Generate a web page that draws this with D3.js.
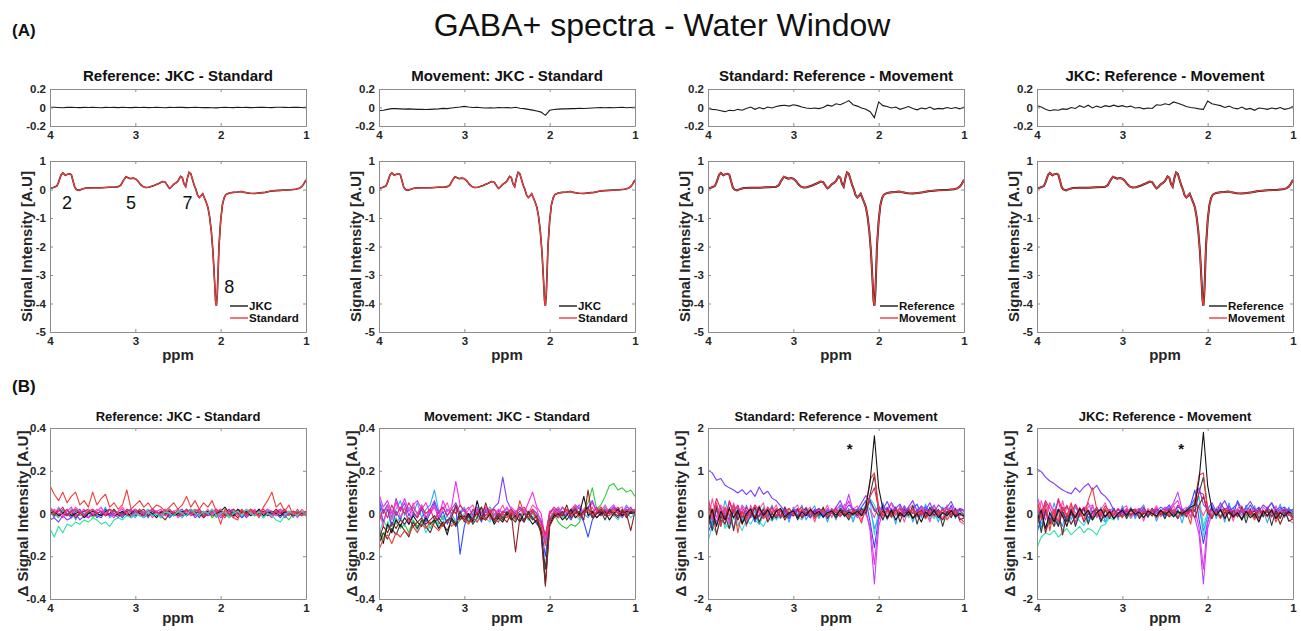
<!DOCTYPE html>
<html><head><meta charset="utf-8">
<script src="https://cdn.jsdelivr.net/npm/d3@7"></script>
<style>
body{margin:0;background:#fff}
svg{display:block}
text{font-family:"Liberation Sans",Arial,Helvetica,sans-serif}
.ax path,.ax line{stroke:#8c8c8c}
.ax text{font:bold 11.5px "Liberation Sans",Arial,sans-serif;fill:#262626}
</style>
</head><body>
<svg id="c" width="1301" height="631"></svg>
<script>
// ---------------- DATA ----------------
const MAIN_TITLE = "GABA+ spectra - Water Window";
const PANEL_TITLES = ["Reference: JKC - Standard","Movement: JKC - Standard","Standard: Reference - Movement","JKC: Reference - Movement"];
const LEGENDS = [["JKC","Standard"],["JKC","Standard"],["Reference","Movement"],["Reference","Movement"]];
const X_TICKS = [4,3,2,1];
const DIFF_TICKS = [-0.2,0,0.2];
const MAIN_TICKS = [-5,-4,-3,-2,-1,0,1];
const B_TICKS_SMALL = [-0.4,-0.2,0,0.2,0.4];
const B_TICKS_LARGE = [-2,-1,0,1,2];
const PEAK_LABELS = [{t:"2",ppm:3.80,v:-0.47},{t:"5",ppm:3.05,v:-0.47},{t:"7",ppm:2.39,v:-0.47},{t:"8",ppm:1.90,v:-3.42}];
const ASTERISKS = [{panel:2,ppm:2.34,v:1.6},{panel:3,ppm:2.31,v:1.6}];

// mean spectrum (ppm, signal)
const SPEC_PPM = [4.00,3.96,3.92,3.90,3.87,3.85,3.82,3.80,3.77,3.75,3.73,3.71,3.69,3.66,3.62,3.58,3.50,3.40,3.30,3.24,3.20,3.17,3.14,3.11,3.09,3.06,3.03,3.00,2.97,2.94,2.91,2.88,2.84,2.78,2.72,2.68,2.65,2.62,2.60,2.58,2.55,2.52,2.50,2.47,2.45,2.43,2.41,2.39,2.37,2.35,2.33,2.31,2.29,2.27,2.25,2.23,2.21,2.19,2.17,2.15,2.13,2.11,2.09,2.07,2.06,2.05,2.04,2.03,2.02,2.00,1.98,1.96,1.94,1.90,1.85,1.80,1.76,1.72,1.66,1.60,1.54,1.48,1.42,1.36,1.30,1.24,1.18,1.12,1.08,1.05,1.03,1.01,1.00];
const SPEC_VAL = [0.04,0.07,0.12,0.25,0.52,0.58,0.50,0.53,0.55,0.52,0.30,0.08,0.00,-0.03,0.02,0.05,0.06,0.06,0.08,0.09,0.10,0.15,0.32,0.45,0.42,0.38,0.40,0.38,0.30,0.18,0.10,0.07,0.08,0.14,0.22,0.28,0.26,0.12,0.04,0.08,0.18,0.24,0.30,0.46,0.42,0.20,0.10,0.40,0.60,0.55,0.35,0.15,0.00,-0.20,-0.28,-0.22,-0.15,-0.30,-0.45,-0.62,-0.95,-1.45,-2.20,-3.30,-3.90,-4.08,-3.70,-2.90,-2.00,-1.10,-0.55,-0.30,-0.18,-0.12,-0.10,-0.09,-0.07,-0.10,-0.13,-0.14,-0.12,-0.10,-0.06,-0.04,-0.03,-0.02,-0.01,0.01,0.04,0.10,0.18,0.28,0.34];

// common ppm grid for difference traces
const PPM_GRID = [4.00,3.95,3.90,3.85,3.80,3.75,3.70,3.65,3.60,3.55,
3.50,3.45,3.40,3.35,3.30,3.25,3.20,3.15,3.10,3.05,
3.00,2.95,2.90,2.85,2.80,2.75,2.70,2.65,2.60,2.55,
2.50,2.45,2.40,2.35,2.30,2.25,2.20,2.15,2.10,2.05,
2.00,1.95,1.90,1.85,1.80,1.75,1.70,1.65,1.60,1.55,
1.50,1.45,1.40,1.35,1.30,1.25,1.20,1.15,1.10,1.05,
1.00];

// (A) top: mean differences
const DIFF_A1 = [0.003,0.002,0.000,-0.002,0.001,0.002,0.000,-0.001,0.001,0.000,
0.002,0.000,-0.002,0.001,0.000,0.001,-0.001,0.002,0.000,-0.001,
0.001,0.000,0.002,-0.001,0.000,0.001,0.000,-0.002,0.001,0.000,
0.002,0.001,-0.001,0.000,0.002,0.000,-0.001,0.000,-0.003,-0.004,
0.000,0.001,0.000,-0.001,0.002,0.000,0.001,-0.001,0.000,0.002,
0.001,0.000,-0.001,0.002,0.003,0.001,0.000,0.002,0.001,0.000,
0.001];
const DIFF_A2 = [-0.035,-0.030,-0.020,-0.012,-0.012,-0.015,-0.018,-0.015,-0.018,-0.020,
-0.020,-0.022,-0.020,-0.018,-0.015,-0.010,-0.012,-0.005,0.000,0.005,
0.012,0.005,0.000,0.002,-0.002,-0.005,-0.003,-0.005,0.000,-0.002,
0.000,-0.005,0.003,-0.008,-0.012,-0.020,-0.028,-0.038,-0.050,-0.085,
-0.030,-0.022,-0.018,-0.015,-0.015,-0.012,-0.012,-0.008,-0.010,-0.008,
-0.005,-0.002,0.000,-0.002,0.000,-0.003,0.000,0.002,-0.002,0.000,
0.003];
const DIFF_A3 = [-0.010,-0.020,-0.025,-0.035,-0.045,-0.030,-0.035,-0.020,-0.030,-0.010,
0.005,-0.020,0.000,-0.015,0.005,-0.005,0.010,0.020,0.025,0.015,
0.030,0.020,0.005,-0.005,-0.010,-0.005,-0.012,0.000,0.025,0.015,
0.040,0.030,0.050,0.075,0.030,0.015,-0.005,-0.020,-0.045,-0.110,
0.060,0.020,0.010,-0.005,0.005,-0.020,-0.005,0.010,-0.010,-0.025,
-0.005,-0.015,0.005,-0.020,-0.010,-0.015,0.000,-0.010,0.000,-0.015,
0.005];
const DIFF_A4 = [0.020,0.005,-0.020,-0.035,-0.025,-0.030,-0.015,-0.020,0.000,-0.010,
0.020,0.000,0.025,-0.005,0.015,0.000,0.020,0.010,0.025,0.010,
0.020,0.005,0.015,-0.005,0.000,-0.015,-0.005,-0.010,0.030,0.025,
0.040,0.030,0.060,0.045,0.030,0.010,0.000,-0.005,-0.015,-0.020,
0.070,0.040,0.030,0.020,0.000,0.015,-0.005,-0.015,0.005,-0.020,
-0.010,-0.030,-0.005,-0.010,-0.020,-0.005,-0.015,0.000,-0.020,-0.010,
0.010];

// (B) Reference: JKC - Standard (per-subject differences)
const B1_BLUE = [0.02,0.01,-0.01,0.02,0.00,-0.02,0.01,0.02,-0.01,0.00,
0.01,-0.02,0.00,0.02,-0.01,0.01,0.00,-0.02,0.01,0.02,
-0.01,0.00,0.01,-0.02,0.02,0.00,-0.01,0.01,-0.02,0.00,
0.01,0.02,-0.01,0.00,0.01,-0.02,0.01,0.00,0.02,-0.01,
0.00,0.01,-0.01,0.02,0.00,-0.02,0.01,0.00,-0.01,0.02,
0.00,-0.01,0.01,0.00,-0.02,0.01,0.00,0.01,-0.01,0.00,
0.01];
const B1_MAGENTA = [-0.01,0.02,0.00,-0.02,0.01,0.03,-0.01,0.00,0.02,-0.02,
0.00,0.01,0.03,-0.01,0.00,-0.02,0.01,0.02,0.00,-0.01,
0.02,-0.01,0.00,0.01,-0.02,0.01,0.02,-0.01,0.00,0.01,
-0.02,0.00,0.01,0.02,-0.01,0.00,-0.02,0.01,0.00,0.02,
-0.01,0.01,0.00,-0.02,0.02,0.01,-0.01,0.00,0.02,-0.01,
0.01,0.00,-0.02,0.01,0.02,-0.01,0.00,0.01,-0.02,0.01,
0.00];
const B1_PURPLE = [-0.03,-0.02,-0.04,-0.01,-0.03,-0.02,0.00,-0.03,-0.01,-0.02,
0.00,-0.01,-0.02,0.01,-0.01,0.00,-0.02,0.01,0.00,-0.01,
0.01,0.00,-0.02,0.00,0.01,-0.01,0.00,0.02,-0.01,0.00,
0.01,-0.01,0.00,0.01,-0.02,0.00,0.01,-0.01,0.00,0.01,
-0.02,0.00,0.02,-0.01,0.00,0.01,-0.02,0.00,0.01,-0.01,
0.00,0.02,-0.01,0.00,0.01,-0.02,0.00,0.01,0.00,-0.01,
0.00];
const B1_BLACK = [0.00,0.01,-0.01,0.00,0.02,-0.01,0.00,0.01,-0.02,0.00,
0.01,0.00,-0.01,0.01,0.02,-0.01,0.00,0.01,-0.01,0.00,
0.02,0.00,-0.01,0.01,0.00,-0.02,0.01,0.00,0.01,-0.01,
0.00,0.01,-0.01,0.02,0.00,-0.01,0.00,0.01,-0.01,0.00,
0.01,0.03,0.00,-0.01,0.02,0.00,0.01,-0.01,0.00,0.02,
-0.01,0.00,0.01,0.00,-0.01,0.01,0.00,-0.01,0.00,0.01,
0.00];
const B1_DARKRED = [0.01,-0.01,0.02,0.00,-0.01,0.01,-0.02,0.00,0.01,0.02,
-0.01,0.00,0.01,-0.01,0.00,0.02,-0.01,0.00,0.01,-0.02,
0.00,0.01,0.02,-0.01,0.00,0.01,-0.01,-0.03,0.00,0.01,
-0.01,0.00,0.02,-0.01,0.00,0.01,-0.02,0.00,0.01,0.00,
0.02,-0.01,0.01,0.00,-0.02,0.01,0.00,0.01,-0.01,0.00,
0.01,-0.01,0.00,0.02,0.00,-0.01,0.01,0.00,-0.01,0.00,
0.01];
const B1_CRIMSON = [0.02,0.00,0.01,0.03,-0.01,0.01,0.02,0.00,-0.01,0.01,
0.02,0.00,0.01,-0.01,0.02,0.01,0.00,-0.01,0.02,0.01,
0.00,0.02,-0.01,0.01,0.02,0.00,0.01,-0.01,0.02,0.00,
0.01,-0.01,0.02,0.00,0.01,0.02,-0.01,0.00,0.01,0.02,
0.00,-0.02,0.01,0.02,0.00,0.01,-0.01,0.02,0.00,0.01,
0.02,0.00,-0.01,0.01,0.00,0.02,-0.01,0.01,0.00,0.01,
-0.01];
const B1_GREEN = [0.01,0.00,-0.02,0.01,0.00,-0.01,0.02,-0.01,0.00,0.01,
-0.02,0.00,0.01,0.00,-0.01,0.02,0.00,-0.01,0.00,0.01,
-0.01,0.02,0.00,-0.01,0.01,0.00,-0.02,0.01,0.00,-0.01,
0.02,0.00,-0.01,0.01,0.02,0.00,-0.01,0.01,-0.02,0.00,
0.01,0.00,-0.02,0.01,0.00,0.02,-0.01,0.00,0.01,-0.01,
0.00,0.01,-0.01,0.00,0.02,-0.01,-0.03,0.00,0.01,-0.01,
0.00];
const B1_SKY = [0.01,-0.02,0.03,0.00,-0.01,0.02,-0.03,0.01,0.00,-0.02,
0.02,0.00,-0.01,0.03,-0.02,0.00,0.01,-0.01,0.02,0.00,
-0.02,0.01,0.00,0.02,-0.01,0.01,-0.02,0.00,0.02,-0.01,
0.00,-0.02,0.01,0.00,-0.01,0.02,0.00,-0.01,0.01,-0.02,
0.01,-0.01,0.02,0.00,0.01,-0.02,0.00,0.02,-0.01,0.01,
-0.02,0.01,0.00,-0.01,0.02,0.00,0.01,-0.02,0.01,0.00,
-0.01];
const B1_PINK = [0.03,0.01,0.02,-0.01,0.02,0.00,0.03,0.01,-0.01,0.02,
0.00,0.02,0.01,0.00,0.02,-0.01,0.01,0.03,0.00,0.01,
0.02,-0.01,0.01,0.00,0.02,0.01,-0.01,0.02,0.00,0.01,
0.02,0.00,0.01,-0.01,0.02,0.01,0.00,0.02,-0.01,0.01,
0.02,0.00,0.01,0.02,-0.01,0.00,0.02,0.01,-0.01,0.01,
0.00,0.02,0.01,-0.01,0.01,0.02,0.00,0.01,-0.01,0.02,
0.00];
const B1_CYAN = [-0.07,-0.11,-0.06,-0.09,-0.05,-0.06,-0.04,-0.05,-0.03,-0.04,
-0.02,-0.03,-0.05,-0.04,-0.06,-0.03,-0.02,-0.03,-0.01,-0.02,
0.00,-0.01,-0.02,0.01,-0.01,0.00,-0.02,0.01,0.00,-0.01,
0.01,0.00,-0.01,0.02,0.00,-0.01,0.01,0.00,0.02,-0.01,
0.00,0.01,-0.02,0.00,0.01,-0.01,0.02,0.00,-0.01,0.01,
-0.02,0.00,-0.01,-0.03,-0.04,-0.01,0.01,0.00,-0.01,0.01,
0.00];
const B1_RED = [0.13,0.09,0.06,0.10,0.05,0.08,0.10,0.04,0.06,0.03,
0.10,0.04,0.07,0.09,0.03,0.05,0.02,0.04,0.11,0.02,
0.04,0.06,0.03,0.05,0.02,0.04,0.03,0.01,0.03,0.05,
0.02,0.04,0.08,0.03,0.06,0.02,0.05,0.03,0.06,0.01,
-0.05,0.02,0.00,-0.02,-0.03,0.02,-0.01,0.02,0.01,-0.02,
0.03,0.06,0.10,0.03,0.05,0.01,0.04,-0.01,0.02,-0.01,
0.01];

// (B) Movement: JKC - Standard
const B2_RED = [-0.17,-0.12,-0.10,-0.14,-0.09,-0.11,-0.08,-0.10,-0.06,-0.09,
-0.05,-0.07,-0.04,-0.06,-0.08,-0.05,-0.03,-0.06,-0.04,-0.02,
-0.03,-0.05,-0.02,-0.04,-0.01,-0.03,0.02,-0.02,-0.04,0.00,
-0.02,0.01,-0.03,0.06,0.00,-0.02,0.01,-0.03,-0.06,-0.15,
-0.04,0.01,-0.02,0.00,0.02,-0.01,0.01,-0.02,0.00,0.02,
-0.01,0.01,0.03,0.00,-0.01,0.02,0.00,0.01,-0.01,0.02,
0.01];
const B2_BLACK = [-0.08,-0.14,-0.05,-0.09,-0.03,-0.06,-0.02,-0.05,-0.01,-0.04,
-0.06,-0.02,-0.05,-0.03,-0.07,-0.04,-0.10,-0.02,-0.05,-0.01,
-0.03,0.00,-0.04,0.06,-0.02,-0.03,0.00,-0.05,-0.02,-0.04,
0.00,-0.03,-0.01,-0.04,0.00,-0.02,-0.05,-0.03,-0.08,-0.33,
-0.05,-0.01,0.00,-0.03,-0.01,0.02,-0.02,0.00,0.08,-0.01,
0.01,-0.02,0.00,0.01,-0.03,0.00,0.02,-0.01,0.01,0.00,
0.00];
const B2_DARKRED = [-0.12,-0.06,-0.09,-0.04,-0.07,-0.03,-0.05,-0.02,-0.06,-0.04,
-0.02,-0.05,-0.03,-0.01,-0.04,-0.06,-0.03,-0.02,0.04,-0.03,
-0.01,-0.04,-0.02,0.00,-0.03,0.05,-0.01,-0.03,0.00,-0.02,
-0.04,0.00,-0.18,-0.02,-0.04,0.00,-0.03,-0.01,-0.10,-0.34,
-0.06,-0.02,0.00,-0.01,0.04,-0.02,0.00,0.01,-0.03,0.11,
-0.02,0.00,0.02,-0.01,0.01,0.00,-0.02,0.01,0.00,-0.08,
0.01];
const B2_BLUE = [0.05,-0.04,0.02,-0.06,0.01,-0.03,0.03,-0.05,0.00,-0.02,
0.02,-0.04,0.00,0.05,-0.03,0.01,-0.05,0.00,0.03,-0.19,
-0.06,0.00,-0.03,0.01,-0.04,0.02,0.00,-0.03,0.01,-0.02,
0.00,0.02,-0.02,0.00,-0.04,0.01,-0.02,-0.05,-0.07,-0.20,
-0.04,0.00,0.02,-0.01,0.00,-0.03,0.01,0.00,-0.04,-0.11,
-0.03,0.00,0.02,-0.01,0.01,0.03,0.00,-0.01,0.02,0.00,
0.01];
const B2_CYAN = [-0.10,-0.03,-0.07,0.02,-0.05,-0.01,-0.06,0.00,-0.04,-0.08,
-0.03,-0.09,-0.05,-0.02,-0.06,-0.04,-0.01,-0.05,-0.03,-0.02,
0.00,-0.03,-0.01,-0.04,0.01,-0.02,-0.04,0.00,-0.03,-0.01,
-0.02,0.01,-0.03,-0.01,0.02,-0.03,-0.02,0.00,-0.06,-0.12,
-0.03,-0.01,0.01,-0.02,0.00,0.02,-0.01,-0.03,0.00,0.01,
-0.02,0.01,-0.01,0.02,0.00,-0.01,-0.03,0.00,0.01,-0.02,
0.00];
const B2_MAGENTA = [0.09,0.03,0.06,0.00,0.05,0.02,0.07,0.01,0.04,0.06,
0.02,0.05,0.00,0.03,-0.02,0.06,0.01,0.03,0.15,0.04,
0.01,0.03,-0.01,0.02,0.00,0.03,0.01,-0.01,0.02,0.00,
0.03,-0.01,0.01,0.02,0.00,0.05,0.10,0.03,0.00,-0.12,
0.01,0.02,0.00,0.03,0.01,-0.01,0.02,0.04,0.00,0.02,
0.05,0.01,0.03,0.00,0.02,0.04,0.01,0.00,0.03,0.02,
0.01];
const B2_PURPLE = [0.06,0.00,0.04,-0.02,0.07,0.01,0.05,-0.01,0.03,0.00,
0.04,-0.02,0.02,0.06,0.00,0.03,-0.01,0.02,0.05,0.00,
0.02,-0.01,0.01,0.03,-0.02,0.01,0.00,0.03,0.05,0.17,
0.06,0.02,0.00,0.03,0.01,-0.02,0.02,0.00,-0.03,-0.12,
0.00,0.02,-0.01,0.03,0.00,0.01,0.04,0.02,0.00,0.03,
0.06,0.01,-0.01,0.02,0.00,0.03,0.01,-0.02,0.01,0.03,
0.00];
const B2_GREEN = [-0.06,-0.12,-0.04,-0.08,-0.02,-0.07,-0.05,-0.09,-0.03,-0.06,
-0.04,-0.02,-0.07,-0.03,-0.05,-0.01,-0.04,-0.02,-0.06,-0.03,
-0.01,-0.04,0.00,-0.02,-0.03,0.01,-0.02,0.00,-0.03,-0.01,
0.00,-0.02,0.01,-0.01,0.00,-0.03,0.00,-0.02,-0.05,-0.10,
-0.02,0.00,-0.04,-0.06,-0.07,-0.05,-0.06,-0.04,0.02,0.05,
0.12,0.02,0.04,0.08,0.13,0.14,0.11,0.12,0.10,0.11,
0.08];
const B2_CRIMSON = [-0.04,0.02,-0.02,0.04,-0.01,0.03,0.00,0.05,0.01,-0.02,
0.03,0.00,0.02,-0.03,0.01,0.03,-0.01,0.02,0.00,0.04,
0.01,-0.02,0.02,0.00,0.03,-0.01,0.01,0.02,-0.02,0.01,
0.00,0.02,-0.01,0.01,0.03,0.00,0.02,-0.02,-0.04,-0.10,
0.00,0.03,0.01,-0.01,0.02,0.00,0.03,-0.01,0.01,0.02,
0.00,0.03,-0.01,0.02,0.00,0.01,0.03,-0.01,0.02,0.00,
0.02];
const B2_SKY = [0.07,0.01,0.04,-0.03,0.02,0.06,-0.01,0.03,0.00,0.05,
-0.02,0.02,0.04,0.11,0.01,-0.03,0.02,0.00,-0.04,0.01,
0.03,-0.02,0.00,0.02,-0.01,0.01,0.03,0.00,-0.02,0.01,
0.02,0.00,-0.01,0.03,0.00,-0.02,0.01,-0.03,-0.06,-0.14,
-0.02,0.01,0.03,0.00,0.02,-0.01,0.01,0.03,0.00,-0.02,
0.01,0.02,0.00,0.03,0.01,-0.01,0.02,0.00,0.04,0.01,
0.02];
const B2_PINK = [0.02,-0.06,0.04,-0.03,0.06,-0.02,0.03,-0.05,0.05,-0.01,
0.04,-0.03,0.01,0.04,-0.02,0.02,0.05,-0.01,0.03,0.00,
-0.02,0.02,0.04,-0.01,0.01,0.03,-0.03,0.02,0.00,0.04,
-0.01,0.03,0.01,-0.02,0.02,0.00,0.04,0.02,-0.05,-0.11,
0.01,-0.02,0.03,0.00,-0.01,0.02,0.04,-0.01,0.02,0.00,
0.03,-0.02,0.01,0.04,0.00,-0.01,0.02,0.03,-0.02,0.01,
0.00];
const B2_BLACK2 = [-0.14,-0.09,-0.12,-0.07,-0.10,-0.05,-0.08,-0.11,-0.04,-0.07,
-0.03,-0.06,-0.09,-0.04,-0.02,-0.05,-0.08,-0.03,-0.06,0.01,
-0.04,-0.01,-0.05,-0.02,0.03,-0.03,0.00,-0.04,-0.01,-0.03,
0.01,-0.02,-0.04,0.00,-0.03,0.01,-0.02,-0.04,-0.09,-0.26,
-0.03,0.00,-0.02,0.01,-0.03,0.00,0.02,-0.01,0.01,0.03,
-0.02,0.00,0.01,-0.03,0.02,0.00,-0.01,0.02,-0.02,0.01,
0.00];

// (B) Standard: Reference - Movement
const B3_PURPLE = [1.02,0.95,0.78,0.82,0.66,0.60,0.55,0.48,0.56,0.44,
0.54,0.40,0.62,0.45,0.52,0.36,0.30,0.18,0.05,-0.08,
0.10,-0.05,0.08,0.00,-0.10,0.06,0.12,-0.04,0.08,0.00,
0.15,0.30,0.05,0.20,0.10,0.08,0.25,0.42,0.30,0.05,
0.15,0.10,0.28,0.05,0.12,0.22,0.00,0.15,0.30,0.05,
0.18,0.08,0.25,0.02,0.20,0.10,0.15,0.28,0.05,0.12,
0.08];
const B3_BLACK = [-0.20,0.10,-0.30,0.05,-0.15,0.12,-0.10,0.08,-0.25,0.00,
0.10,-0.12,0.15,-0.05,0.08,-0.10,0.05,0.12,-0.08,0.02,
0.06,-0.10,0.04,-0.05,0.10,-0.02,0.05,-0.08,0.02,0.06,
-0.04,0.08,-0.06,0.03,-0.02,0.05,-0.05,0.15,0.75,1.82,
0.60,0.10,-0.10,0.08,-0.15,0.02,-0.08,0.05,-0.12,0.00,
-0.20,0.04,-0.06,0.08,-0.10,0.02,-0.05,0.06,-0.08,0.00,
-0.05];
const B3_RED = [0.40,-0.10,0.25,-0.30,0.15,-0.05,0.20,-0.45,0.05,-0.15,
0.10,-0.08,0.18,-0.12,0.02,0.15,-0.06,0.08,-0.10,0.12,
0.00,-0.08,0.10,-0.04,0.06,-0.12,0.03,0.08,-0.06,0.02,
0.10,-0.05,0.04,-0.10,0.06,0.00,-0.22,0.20,0.80,0.95,
0.15,-0.05,0.08,-0.10,0.04,0.12,-0.06,0.02,0.10,-0.08,
0.05,-0.12,0.02,0.08,-0.04,0.10,-0.15,0.00,0.06,-0.10,
-0.20];
const B3_VIOLET = [0.10,-0.15,0.20,-0.05,0.12,-0.20,0.05,0.15,-0.10,0.08,
-0.05,0.12,-0.08,0.02,0.10,-0.12,0.05,-0.02,0.08,-0.06,
0.04,0.10,-0.05,0.02,-0.10,0.06,0.00,0.08,-0.04,0.12,
0.02,-0.08,0.10,0.45,0.05,-0.10,0.02,0.08,-0.40,-1.65,
-0.30,0.05,0.15,-0.02,0.10,0.00,0.12,-0.05,0.08,0.02,
0.15,-0.02,0.10,0.05,-0.05,0.12,0.00,0.08,-0.03,0.10,
0.05];
const B3_BLUE = [-0.45,-0.20,0.10,-0.30,0.05,-0.15,0.20,-0.10,0.15,-0.05,
0.08,-0.20,0.12,0.02,-0.08,0.15,-0.05,0.10,0.00,-0.12,
0.05,0.12,-0.06,0.10,0.00,-0.05,0.08,-0.10,0.04,0.00,
0.10,-0.06,0.02,0.08,-0.04,0.05,0.15,0.30,-0.20,-0.80,
-0.10,0.20,0.05,0.25,0.10,-0.05,0.18,0.02,0.10,0.22,
-0.02,0.15,0.05,0.20,-0.05,0.10,0.02,0.18,-0.06,0.10,
0.05];
const B3_CYAN = [-0.65,-0.30,-0.45,-0.15,-0.25,-0.35,-0.10,-0.20,-0.40,-0.15,
-0.25,-0.05,-0.20,-0.30,-0.10,-0.18,-0.05,-0.12,-0.02,-0.10,
0.02,-0.08,-0.15,0.00,-0.06,0.05,-0.10,0.00,-0.04,0.06,
-0.08,0.02,-0.05,0.04,-0.12,0.00,0.05,0.20,0.30,-0.50,
0.10,-0.05,0.08,-0.02,0.12,0.00,-0.08,0.10,0.02,-0.05,
0.08,0.00,0.12,-0.04,0.05,-0.10,0.02,0.08,-0.06,0.04,
0.00];
const B3_MAGENTA = [0.30,0.05,-0.20,0.15,-0.10,0.25,0.00,-0.15,0.20,0.05,
-0.10,0.15,0.02,-0.12,0.08,0.00,0.12,-0.05,0.10,0.02,
-0.06,0.08,0.00,0.15,-0.02,0.10,0.04,-0.06,0.12,0.00,
0.08,0.20,0.10,0.30,0.02,-0.05,0.10,0.00,-0.30,-1.20,
-0.15,0.08,0.00,0.12,-0.04,0.06,0.15,-0.02,0.08,0.00,
0.12,-0.05,0.06,0.10,-0.02,0.08,0.00,0.15,0.02,-0.05,
0.00];
const B3_DARKRED = [-0.35,0.10,-0.50,-0.05,-0.25,0.15,-0.40,0.05,-0.20,-0.10,
0.12,-0.15,-0.05,0.10,-0.20,0.00,-0.10,0.08,-0.15,0.00,
-0.05,0.10,-0.10,0.02,0.06,-0.08,0.00,0.12,-0.05,0.04,
-0.10,0.02,0.08,-0.04,0.00,0.10,-0.05,0.12,0.30,0.10,
-0.05,0.06,-0.12,0.02,0.08,-0.06,0.00,0.10,-0.10,0.02,
0.06,-0.08,0.00,0.10,-0.05,-0.15,0.02,0.08,-0.04,0.00,
-0.08];
const B3_CRIMSON = [0.20,-0.05,0.35,0.10,-0.15,0.30,0.05,0.20,-0.10,0.15,
0.00,0.20,0.08,-0.05,0.15,0.02,0.10,-0.08,0.05,0.12,
-0.02,0.06,0.15,-0.05,0.08,0.00,0.12,0.04,-0.06,0.10,
0.02,0.08,-0.04,0.06,0.12,-0.02,0.05,0.10,0.40,0.60,
0.10,-0.05,0.08,0.00,0.12,-0.02,0.06,0.10,0.00,0.08,
-0.04,0.10,0.02,-0.06,0.08,0.00,0.12,-0.05,0.04,0.10,
-0.10];
const B3_AQUA = [-0.30,-0.10,-0.25,0.05,-0.35,-0.15,-0.05,-0.30,-0.10,-0.20,
0.00,-0.15,-0.25,-0.05,-0.12,0.02,-0.08,-0.02,-0.10,0.05,
-0.05,0.02,-0.08,0.06,-0.02,0.00,-0.10,0.04,0.00,-0.06,
0.05,-0.02,0.06,0.00,-0.05,0.02,0.08,-0.04,0.35,0.20,
-0.02,0.05,-0.06,0.08,0.00,-0.04,0.06,-0.10,0.02,0.05,
-0.05,0.08,0.00,-0.12,0.04,0.00,-0.06,0.05,0.00,-0.04,
0.02];
const B3_SKY = [0.25,-0.30,0.10,-0.15,0.30,-0.05,-0.35,0.15,-0.20,0.20,
-0.10,0.05,-0.25,0.15,-0.05,0.20,-0.15,0.05,0.10,-0.20,
0.15,-0.05,0.20,-0.15,0.05,0.18,-0.12,0.10,-0.20,0.08,
-0.15,0.20,-0.08,0.12,-0.20,0.10,0.00,0.20,0.10,-0.35,
-0.10,0.25,-0.15,0.10,-0.25,0.20,-0.05,0.15,-0.20,0.12,
-0.10,0.22,-0.15,0.05,-0.20,0.15,-0.08,0.20,-0.12,0.10,
-0.05];
const B3_PINK = [-0.20,0.35,-0.10,0.20,0.05,-0.25,0.25,-0.05,0.15,-0.30,
0.20,-0.10,0.10,0.25,-0.15,0.05,0.20,-0.10,0.15,-0.05,
0.10,0.20,-0.12,0.05,0.15,-0.20,0.10,0.00,0.20,-0.10,
0.15,-0.05,0.22,-0.10,0.10,0.18,-0.15,0.05,0.10,-0.10,
0.20,-0.15,0.10,0.25,-0.05,0.15,-0.20,0.10,0.20,-0.08,
0.15,0.05,-0.20,0.18,0.02,-0.12,0.20,-0.05,0.12,-0.18,
-0.25];
const B3_BLACK2 = [0.05,-0.40,0.15,-0.20,-0.05,-0.35,0.10,-0.15,0.05,-0.25,
-0.05,0.15,-0.20,0.00,0.10,-0.15,0.08,-0.10,0.15,-0.05,
0.10,-0.15,0.05,0.12,-0.10,0.08,-0.05,0.15,-0.12,0.05,
-0.10,0.12,0.00,-0.15,0.08,-0.05,0.12,0.00,0.45,0.90,
0.05,-0.15,0.12,-0.08,0.15,-0.20,0.10,-0.05,0.18,-0.25,
0.08,-0.12,0.15,-0.05,0.10,-0.30,0.05,-0.10,0.12,-0.15,
-0.10];

// (B) JKC: Reference - Movement
const B4_PURPLE = [1.05,0.98,0.85,0.76,0.70,0.62,0.55,0.50,0.46,0.60,
0.50,0.62,0.70,0.55,0.66,0.48,0.40,0.28,0.08,-0.05,
0.12,0.00,0.08,-0.06,0.10,0.04,-0.02,0.10,0.05,0.15,
0.08,0.20,0.02,0.15,0.10,0.05,0.18,0.35,0.60,0.20,
0.10,0.25,0.05,0.15,0.30,0.08,0.12,0.25,0.02,0.15,
0.28,0.10,0.05,0.20,0.12,0.25,0.08,0.15,0.02,0.10,
0.05];
const B4_BLACK = [-0.15,0.08,-0.35,0.02,-0.20,0.10,-0.05,-0.30,0.05,-0.10,
0.12,-0.05,0.08,-0.15,0.02,0.10,-0.08,0.05,-0.12,0.00,
0.08,-0.05,0.10,-0.02,0.04,-0.10,0.06,0.00,-0.06,0.08,
-0.02,0.05,-0.08,0.04,0.00,0.06,0.15,0.20,0.80,1.90,
0.65,0.10,-0.05,0.10,-0.12,0.04,-0.08,0.02,-0.15,0.05,
-0.10,0.00,-0.20,0.06,-0.05,0.08,-0.12,0.02,-0.06,0.04,
-0.02];
const B4_RED = [0.35,-0.15,0.20,-0.40,0.10,-0.20,0.15,-0.05,0.25,-0.10,
0.05,-0.15,0.30,0.60,0.10,-0.05,0.12,-0.08,0.05,0.00,
-0.10,0.08,-0.02,0.10,-0.06,0.04,0.00,0.08,-0.10,0.02,
0.06,-0.04,0.10,-0.08,0.02,0.05,-0.25,0.30,0.90,0.95,
0.10,-0.08,0.05,-0.12,0.08,0.00,-0.10,0.05,0.10,-0.05,
0.02,-0.15,0.06,0.00,-0.08,0.10,-0.20,0.04,-0.05,0.02,
-0.15];
const B4_VIOLET = [0.15,-0.10,0.25,0.00,-0.20,0.10,0.05,-0.15,0.12,0.02,
-0.08,0.10,0.00,0.15,-0.05,0.08,-0.10,0.05,0.00,0.12,
-0.04,0.06,0.10,-0.06,0.02,0.08,-0.02,0.12,0.00,0.05,
0.15,0.10,0.25,0.50,0.10,0.00,0.05,-0.10,-0.50,-1.65,
-0.35,0.00,0.10,0.05,-0.05,0.15,0.02,0.08,-0.04,0.12,
0.00,0.10,0.05,-0.02,0.15,0.00,0.08,0.02,-0.05,0.10,
0.04];
const B4_BLUE = [-0.40,-0.15,0.05,-0.25,0.10,-0.30,0.15,-0.05,0.10,-0.20,
0.05,0.12,-0.10,0.00,0.15,-0.05,0.08,-0.02,0.10,-0.08,
0.02,0.10,-0.04,0.06,0.00,0.12,-0.06,0.05,0.00,0.08,
-0.05,0.10,0.02,0.06,-0.04,0.10,0.20,0.55,-0.15,-0.70,
-0.20,0.15,0.02,0.25,0.08,0.18,-0.05,0.30,0.10,0.02,
0.20,0.05,0.15,-0.02,0.12,0.25,0.00,0.10,0.15,0.05,
0.10];
const B4_AQUA = [-0.80,-0.55,-0.45,-0.50,-0.40,-0.55,-0.45,-0.35,-0.50,-0.40,
-0.30,-0.45,-0.35,-0.40,-0.50,-0.30,-0.25,-0.10,-0.15,0.00,
-0.05,0.05,-0.08,0.02,-0.04,0.06,-0.02,0.00,-0.06,0.04,
0.00,-0.05,0.08,-0.02,0.04,0.00,0.05,0.25,0.40,-0.30,
0.05,-0.02,0.10,-0.05,0.02,0.08,-0.06,0.00,0.05,-0.10,
0.02,0.06,-0.04,0.00,0.08,-0.02,0.05,-0.08,0.02,0.00,
0.04];
const B4_MAGENTA = [0.40,0.10,-0.15,0.25,0.00,0.30,-0.10,0.15,0.05,0.20,
-0.05,0.10,0.25,0.00,0.12,-0.08,0.05,0.10,-0.02,0.08,
0.00,0.12,-0.05,0.06,0.10,-0.02,0.08,0.00,0.15,-0.04,
0.10,0.05,0.20,0.30,0.00,0.08,-0.05,0.10,-0.35,-1.30,
-0.20,0.10,-0.02,0.08,0.00,0.15,-0.05,0.10,0.02,0.06,
-0.04,0.12,0.00,0.08,-0.06,0.10,0.02,0.00,0.12,-0.05,
0.02];
const B4_DARKRED = [-0.30,0.05,-0.45,-0.10,-0.30,0.10,-0.50,0.00,-0.25,-0.05,
0.10,-0.20,0.00,-0.10,0.12,-0.15,-0.05,0.05,-0.12,0.02,
-0.08,0.06,-0.04,0.10,-0.10,0.00,0.05,-0.06,0.10,-0.02,
0.04,-0.08,0.00,0.06,-0.05,0.02,0.10,-0.10,0.20,0.40,
0.00,-0.06,0.04,-0.10,0.02,0.08,-0.05,0.00,-0.12,0.05,
-0.02,0.06,-0.10,0.00,0.04,-0.06,0.02,-0.25,0.00,0.05,
-0.10];
const B4_CRIMSON = [0.25,0.00,0.30,0.12,-0.10,0.35,0.05,0.18,-0.05,0.22,
0.02,0.15,0.05,-0.08,0.12,0.00,0.18,0.04,-0.05,0.10,
0.06,-0.02,0.12,0.00,0.08,0.15,-0.04,0.06,0.10,0.00,
0.05,0.12,0.00,0.20,0.05,-0.05,0.08,0.15,0.50,0.45,
0.05,0.10,-0.04,0.06,0.12,0.00,0.08,-0.06,0.10,0.02,
0.06,-0.05,0.10,0.00,0.12,0.04,-0.08,0.05,0.10,-0.02,
-0.12];
const B4_CYAN = [-0.45,-0.20,-0.35,-0.05,-0.30,-0.15,-0.40,-0.10,-0.25,-0.05,
-0.18,-0.28,-0.08,-0.15,-0.02,-0.12,-0.20,-0.05,-0.10,0.02,
-0.06,0.00,-0.12,0.04,-0.04,-0.08,0.02,-0.02,0.05,-0.06,
0.00,0.04,-0.05,0.02,-0.08,0.00,0.10,0.30,0.35,-0.55,
0.00,0.08,-0.04,0.12,-0.02,0.05,0.15,-0.06,0.04,0.10,
-0.02,0.08,0.00,-0.06,0.12,0.02,-0.04,0.06,0.00,0.10,
0.02];
const B4_SKY = [0.20,-0.35,0.05,-0.20,0.25,-0.10,-0.30,0.20,-0.15,0.15,
-0.05,0.10,-0.20,0.20,-0.10,0.15,-0.20,0.08,0.12,-0.15,
0.18,-0.08,0.15,-0.12,0.08,0.20,-0.10,0.12,-0.18,0.05,
-0.12,0.18,-0.05,0.10,-0.22,0.12,0.05,0.25,0.15,-0.40,
-0.08,0.20,-0.12,0.15,-0.20,0.25,-0.08,0.12,-0.15,0.20,
-0.05,0.18,-0.12,0.08,-0.22,0.12,-0.05,0.22,-0.10,0.15,
-0.08];
const B4_PINK = [-0.25,0.30,-0.05,0.25,0.00,-0.20,0.30,-0.10,0.20,-0.25,
0.15,-0.05,0.15,0.20,-0.10,0.10,0.25,-0.05,0.10,-0.10,
0.12,0.18,-0.10,0.08,0.12,-0.18,0.12,0.02,0.18,-0.08,
0.12,-0.02,0.20,-0.12,0.08,0.15,-0.10,0.08,0.15,-0.05,
0.18,-0.12,0.12,0.22,-0.08,0.12,-0.18,0.12,0.18,-0.05,
0.12,0.08,-0.18,0.15,0.05,-0.10,0.18,-0.08,0.10,-0.15,
-0.22];
const B4_BLACK2 = [0.10,-0.45,0.10,-0.25,-0.10,-0.30,0.05,-0.20,0.10,-0.30,
0.00,0.12,-0.25,0.05,0.08,-0.20,0.10,-0.12,0.12,-0.08,
0.08,-0.12,0.08,0.10,-0.12,0.05,-0.08,0.12,-0.10,0.08,
-0.12,0.10,0.02,-0.12,0.10,-0.08,0.10,0.05,0.50,0.85,
0.10,-0.12,0.10,-0.10,0.12,-0.18,0.08,-0.08,0.15,-0.22,
0.10,-0.10,0.12,-0.08,0.12,-0.28,0.08,-0.12,0.10,-0.18,
-0.12];

// ---------------- STYLE ----------------
const C = {red:"#ee3b3b",black:"#141414",blue:"#2f4cff",cyan:"#36d6e6",aqua:"#2fe0a8",magenta:"#f52cf0",
  purple:"#7b3cff",violet:"#c043f5",green:"#2fcc3a",darkred:"#8e1f1f",crimson:"#e3245e",sky:"#2ea6ff",pink:"#ff4fa8",gray:"#3a3a3a"};
const B_SETS = [
  [[B1_GREEN,C.green],[B1_SKY,C.sky],[B1_BLUE,C.blue],[B1_PURPLE,C.purple],[B1_MAGENTA,C.magenta],[B1_DARKRED,C.darkred],[B1_BLACK,C.black],[B1_PINK,C.pink],[B1_CRIMSON,C.crimson],[B1_CYAN,C.aqua],[B1_RED,C.red]],
  [[B2_GREEN,C.green],[B2_SKY,C.sky],[B2_CYAN,C.cyan],[B2_BLUE,C.blue],[B2_PURPLE,C.purple],[B2_PINK,C.pink],[B2_MAGENTA,C.magenta],[B2_CRIMSON,C.crimson],[B2_BLACK2,C.gray],[B2_BLACK,C.black],[B2_RED,C.red],[B2_DARKRED,C.darkred]],
  [[B3_AQUA,C.aqua],[B3_CYAN,C.cyan],[B3_SKY,C.sky],[B3_BLUE,C.blue],[B3_VIOLET,C.violet],[B3_MAGENTA,C.magenta],[B3_PINK,C.pink],[B3_DARKRED,C.darkred],[B3_BLACK2,C.gray],[B3_CRIMSON,C.crimson],[B3_PURPLE,C.purple],[B3_RED,C.red],[B3_BLACK,C.black]],
  [[B4_AQUA,C.aqua],[B4_CYAN,C.cyan],[B4_SKY,C.sky],[B4_BLUE,C.blue],[B4_VIOLET,C.violet],[B4_MAGENTA,C.magenta],[B4_PINK,C.pink],[B4_DARKRED,C.darkred],[B4_BLACK2,C.gray],[B4_CRIMSON,C.crimson],[B4_PURPLE,C.purple],[B4_RED,C.red],[B4_BLACK,C.black]]
];
const DIFFS = [DIFF_A1,DIFF_A2,DIFF_A3,DIFF_A4];
const B_TICKS = [B_TICKS_SMALL,B_TICKS_SMALL,B_TICKS_LARGE,B_TICKS_LARGE];

// ---------------- LAYOUT ----------------
const svg = d3.select("#c");
const COL_X = [50,379,708,1037], W = 256;
const TOP_Y = 89, TOP_H = 37, MAIN_Y = 161, MAIN_H = 171, B_Y = 428, B_H = 171;
const LEG_X = [180,180,172,172];
const fmt = d => String(d);
const defs = svg.append("defs");
let clipN = 0;

function frame(g, xs, ys, h, yTicks) {
  g.append("g").attr("class","ax").call(d3.axisLeft(ys).tickValues(yTicks).tickSize(-3).tickSizeOuter(0).tickPadding(4).tickFormat(fmt));
  g.append("g").attr("class","ax").attr("transform",`translate(${W},0)`).call(d3.axisRight(ys).tickValues(yTicks).tickSize(-3).tickSizeOuter(0).tickFormat(""));
  g.append("g").attr("class","ax").call(d3.axisTop(xs).tickValues(X_TICKS).tickSize(-3).tickSizeOuter(0).tickFormat(""));
  g.append("g").attr("class","ax").attr("transform",`translate(0,${h})`).call(d3.axisBottom(xs).tickValues(X_TICKS).tickSize(-3).tickSizeOuter(0).tickPadding(5).tickFormat(fmt));
}
function clipped(g, h) {
  const id = "clip" + (clipN++);
  defs.append("clipPath").attr("id", id).append("rect").attr("width", W).attr("height", h);
  return g.append("g").attr("clip-path", `url(#${id})`);
}
function ppmLabel(g, h, dy) {
  g.append("text").attr("x", W/2).attr("y", h + dy).attr("text-anchor","middle")
    .style("font","bold 15px 'Liberation Sans',Arial,sans-serif").attr("fill","#262626").text("ppm");
}
function yLabel(x, yc, txt) {
  svg.append("text").attr("transform",`translate(${x},${yc}) rotate(-90)`).attr("text-anchor","middle").attr("dy","0.35em")
    .style("font","bold 15px 'Liberation Sans',Arial,sans-serif").attr("fill","#262626").text(txt);
}

svg.append("text").attr("x", 662).attr("y", 36).attr("text-anchor","middle")
  .style("font","32px 'Liberation Sans',Arial,sans-serif").attr("fill","#111").text(MAIN_TITLE);
svg.append("text").attr("x", 12).attr("y", 36).style("font","bold 17px 'Liberation Sans',Arial,sans-serif").attr("fill","#111").text("(A)");
svg.append("text").attr("x", 12).attr("y", 392).style("font","bold 17px 'Liberation Sans',Arial,sans-serif").attr("fill","#111").text("(B)");

PANEL_TITLES.forEach((title, p) => {
  const x0 = COL_X[p];
  const xs = d3.scaleLinear().domain([4,1]).range([0,W]);

  // ---- (A) top: mean difference ----
  const gT = svg.append("g").attr("transform",`translate(${x0},${TOP_Y})`);
  const yT = d3.scaleLinear().domain([-0.2,0.2]).range([TOP_H,0]);
  gT.append("text").attr("x", W/2).attr("y", -8).attr("text-anchor","middle")
    .style("font","bold 15px 'Liberation Sans',Arial,sans-serif").attr("fill","#111").text(title);
  const lineT = d3.line().x((d,i)=>xs(PPM_GRID[i])).y(d=>yT(d));
  clipped(gT, TOP_H).append("path").datum(DIFFS[p]).attr("d", lineT).attr("fill","none").attr("stroke","#1a1a1a").attr("stroke-width",1.1);
  frame(gT, xs, yT, TOP_H, DIFF_TICKS);

  // ---- (A) main: spectra ----
  const gM = svg.append("g").attr("transform",`translate(${x0},${MAIN_Y})`);
  const yM = d3.scaleLinear().domain([-5,1]).range([MAIN_H,0]);
  const lineM = d3.line().x((d,i)=>xs(SPEC_PPM[i])).y(d=>yM(d));
  const cM = clipped(gM, MAIN_H);
  cM.append("path").datum(SPEC_VAL).attr("d", lineM).attr("fill","none").attr("stroke","#1a1a1a").attr("stroke-width", p>=2 ? 2.0 : 1.6);
  cM.append("path").datum(SPEC_VAL).attr("d", lineM).attr("fill","none").attr("stroke",C.red).attr("stroke-width",1.3);
  frame(gM, xs, yM, MAIN_H, MAIN_TICKS);
  ppmLabel(gM, MAIN_H, 28);
  if (p === 0) {
    PEAK_LABELS.forEach(pk => {
      gM.append("text").attr("x", xs(pk.ppm)).attr("y", yM(pk.v)).attr("text-anchor","middle").attr("dy","0.35em")
        .style("font","18px 'Liberation Sans',Arial,sans-serif").attr("fill","#111").text(pk.t);
    });
  }
  // legend
  const lg = gM.append("g").attr("transform",`translate(${LEG_X[p]},145)`);
  [["#1a1a1a",0],[C.red,12]].forEach(([col,dy],k) => {
    lg.append("line").attr("x1",0).attr("x2",18).attr("y1",dy).attr("y2",dy).attr("stroke",col).attr("stroke-width",1.4);
    lg.append("text").attr("x",19).attr("y",dy).attr("dy","0.34em")
      .style("font","bold 11.5px 'Liberation Sans',Arial,sans-serif").attr("fill","#111").text(LEGENDS[p][k]);
  });
  yLabel(x0 - (p === 0 ? 23 : 23), MAIN_Y + MAIN_H/2, "Signal Intensity [A.U]");

  // ---- (B) per-subject differences ----
  const gB = svg.append("g").attr("transform",`translate(${x0},${B_Y})`);
  const bt = B_TICKS[p];
  const yB = d3.scaleLinear().domain([bt[0], bt[bt.length-1]]).range([B_H,0]);
  gB.append("text").attr("x", W/2).attr("y", -7).attr("text-anchor","middle")
    .style("font","bold 13px 'Liberation Sans',Arial,sans-serif").attr("fill","#111").text(title);
  const lineB = d3.line().x((d,i)=>xs(PPM_GRID[i])).y(d=>yB(d));
  const cB = clipped(gB, B_H);
  B_SETS[p].forEach(([vals,col]) => {
    cB.append("path").datum(vals).attr("d", lineB).attr("fill","none").attr("stroke",col).attr("stroke-width",1.1).attr("stroke-linejoin","round");
  });
  frame(gB, xs, yB, B_H, bt);
  ppmLabel(gB, B_H, 24);
  yLabel(x0 - 27, B_Y + B_H/2, "\u0394 Signal Intensity [A.U]");
  ASTERISKS.filter(a => a.panel === p).forEach(a => {
    gB.append("text").attr("x", xs(a.ppm)).attr("y", yB(a.v)).attr("text-anchor","middle").attr("dy","0.6em")
      .style("font","bold 15px 'Liberation Sans',Arial,sans-serif").attr("fill","#111").text("*");
  });
});
</script>
</body></html>
